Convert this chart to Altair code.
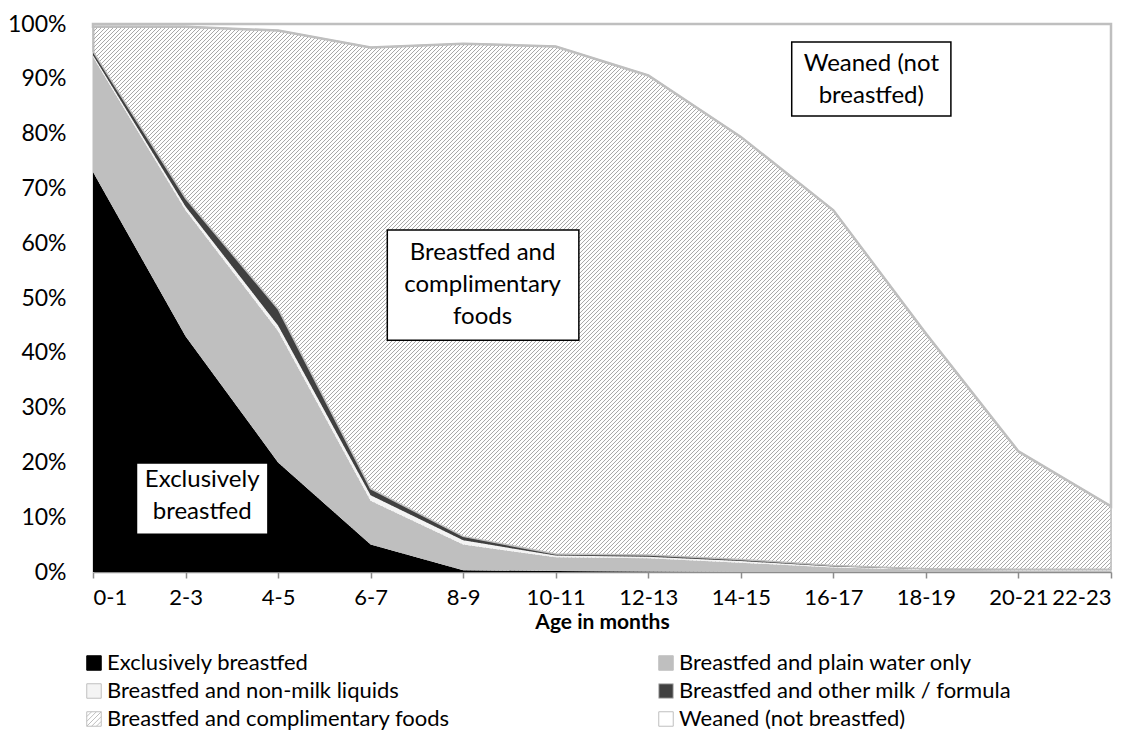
import altair as alt
import pandas as pd

ages = ["0-1", "2-3", "4-5", "6-7", "8-9", "10-11", "12-13", "14-15", "16-17", "18-19", "20-21", "22-23"]

series = [
    "Exclusively breastfed",
    "Breastfed and plain water only",
    "Breastfed and non-milk liquids",
    "Breastfed and other milk / formula",
    "Breastfed and complimentary foods",
    "Weaned (not breastfed)",
]

exclusive = [73.0, 43.0, 20.0, 5.0, 0.3, 0.2, 0.1, 0.0, 0.0, 0.0, 0.0, 0.0]
plain_water = [21.0, 23.0, 24.0, 8.0, 4.7, 2.5, 2.4, 1.7, 0.8, 0.4, 0.3, 0.3]
non_milk = [0.3, 0.7, 1.0, 1.0, 0.8, 0.3, 0.3, 0.3, 0.2, 0.1, 0.1, 0.1]
other_milk = [0.7, 1.5, 3.0, 1.2, 0.7, 0.3, 0.3, 0.3, 0.2, 0.1, 0.1, 0.1]
complementary = [4.5, 31.3, 50.8, 80.5, 89.9, 92.6, 87.5, 77.1, 64.8, 42.9, 21.5, 11.5]
weaned = [0.5, 0.5, 1.2, 4.3, 3.6, 4.1, 9.4, 20.6, 34.0, 56.5, 78.0, 88.0]

values = [exclusive, plain_water, non_milk, other_milk, complementary, weaned]
colors = ["#000000", "#bfbfbf", "#f4f4f4", "#404040", "#ffffff", "#ffffff"]

# annotation boxes (data coordinates: x = age index, y = percent of first text line)
ann_text = ["Exclusively\nbreastfed", "Breastfed and\ncomplimentary\nfoods", "Weaned (not\nbreastfed)"]
ann_x = [1.18, 4.21, 8.41]
ann_y = [16.8, 58.2, 92.7]
box_x1 = [0.47, 3.18, 7.55]
box_x2 = [1.89, 5.25, 9.27]
box_y1 = [6.9, 42.3, 83.2]
box_y2 = [19.9, 62.4, 96.7]

FONT = "Lato"
W, H = 1018, 548
COMP = "Breastfed and complimentary foods"
WEAN = "Weaned (not breastfed)"

rows = []
for si, name in enumerate(series):
    for ai, age in enumerate(ages):
        rows.append({"idx": ai, "age": age, "series": name, "order": si, "value": values[si][ai]})
df = pd.DataFrame(rows)

ann_df = pd.DataFrame({"text": ann_text, "x": ann_x, "y": ann_y,
                       "x1": box_x1, "x2": box_x2, "y1": box_y1, "y2": box_y2})

nx = len(ages) - 1
# hatch pattern geometry (style): 45-degree lines, 4px apart horizontally
px_per_x = W / nx
px_per_y = H / 100.0
run = 100.0 * px_per_y / px_per_x      # x-units spanned by one 45deg line bottom->top
step = 4.0 / px_per_x
n_lines = int((nx + run) / step) + 2

label_expr = "[" + ",".join("'" + a + "'" for a in ages) + "][datum.value]"

x_enc = alt.X("idx:Q",
              scale=alt.Scale(domain=[0, nx], nice=False, zero=False),
              axis=alt.Axis(values=list(range(len(ages))), labelExpr=label_expr,
                            title="Age in months", grid=False,
                            domainColor="#8c8c8c", domainWidth=1.5,
                            tickColor="#8c8c8c", tickWidth=1.5, tickSize=6,
                            labelPadding=9, labelFontSize=22, labelFont=FONT,
                            labelColor="#000000",
                            titleFont=FONT, titleFontSize=21, titleFontWeight="bold",
                            titleColor="#000000", titlePadding=3))
y_enc = alt.Y("y1:Q", scale=alt.Scale(domain=[0, 100], nice=False),
              axis=alt.Axis(values=list(range(0, 101, 10)), labelExpr="datum.value + '%'",
                            title=None, grid=False, ticks=False, labelPadding=27,
                            domainColor="#bfbfbf", domainWidth=2,
                            labelFontSize=23, labelFont=FONT, labelColor="#000000"))

base = alt.Chart(df).transform_stack(
    stack="value", groupby=["idx"], as_=["y0", "y1"], sort=[alt.SortField("order", order="ascending")]
)

hatch_symbol = ("M-1,-1H1V1H-1Z M-1,-0.33L-0.33,-1 M-1,0.33L0.33,-1 M-1,1L1,-1 "
                "M-0.33,1L1,-0.33 M0.33,1L1,0.33")

legend = alt.Legend(
    title=None, orient="none", legendX=-10, legendY=628, direction="horizontal",
    columns=2, symbolSize=210, symbolStrokeWidth=1,
    symbolType=alt.ExprRef(expr="datum.value === '" + COMP + "' ? '" + hatch_symbol + "' : 'square'"),
    symbolStrokeColor=alt.ExprRef(expr="datum.value === 'Exclusively breastfed' ? '#000000' : '#bfbfbf'"),
    labelFont=FONT, labelFontSize=22, labelColor="#000000", labelLimit=600,
    columnPadding=205, rowPadding=6, labelOffset=2, gridAlign="all",
    symbolOpacity=1,
)

# hatch lines, drawn first; areas above/below cover them outside the complementary band
hatch = alt.Chart(alt.sequence(0, n_lines, 1, as_="k")).transform_calculate(
    hx0="-%f + datum.k * %f" % (run, step),
).transform_calculate(
    hx1="datum.hx0 + %f" % run, hy0="0", hy1="100"
).mark_rule(stroke="#a8a8a8", strokeWidth=1, clip=True).encode(
    x=alt.X("hx0:Q"), x2="hx1:Q", y=alt.Y("hy0:Q"), y2="hy1:Q"
)

main = base.transform_filter(
    "datum.series != '" + COMP + "' && datum.series != '" + WEAN + "'"
).mark_area(opacity=1, strokeWidth=0).encode(
    x=x_enc, y=y_enc, y2="y0:Q",
    color=alt.Color("series:N", scale=alt.Scale(domain=series, range=colors), legend=legend,
                    sort=series),
    order=alt.Order("order:Q"),
)

comp = base.transform_filter("datum.series == '" + COMP + "'").mark_area(
    fillOpacity=0, stroke="#bfbfbf", strokeWidth=1.5
).encode(x="idx:Q", y="y1:Q", y2="y0:Q")

wean = base.transform_filter("datum.series == '" + WEAN + "'").mark_area(
    fill="#ffffff", opacity=1, stroke="#bfbfbf", strokeWidth=2.5
).encode(x="idx:Q", y="y1:Q", y2="y0:Q")

boxes = alt.Chart(ann_df).mark_rect(fill="#ffffff", stroke="#000000", strokeWidth=1.5).encode(
    x="x1:Q", x2="x2:Q", y="y1:Q", y2="y2:Q"
)
texts = alt.Chart(ann_df).mark_text(
    font=FONT, fontSize=24, lineBreak="\n", lineHeight=32, color="#000000", baseline="middle", align="center"
).encode(x="x:Q", y="y:Q", text="text:N")

chart = alt.layer(hatch, wean, main, comp, boxes, texts).properties(
    width=W, height=H,
    autosize=alt.AutoSizeParams(type="none"),
    padding={"left": 85, "top": 16, "right": 27, "bottom": 176},
).configure_view(stroke=None).configure(background="#ffffff")

chart.save("out.html", embed_options={"renderer": "svg", "actions": False})
